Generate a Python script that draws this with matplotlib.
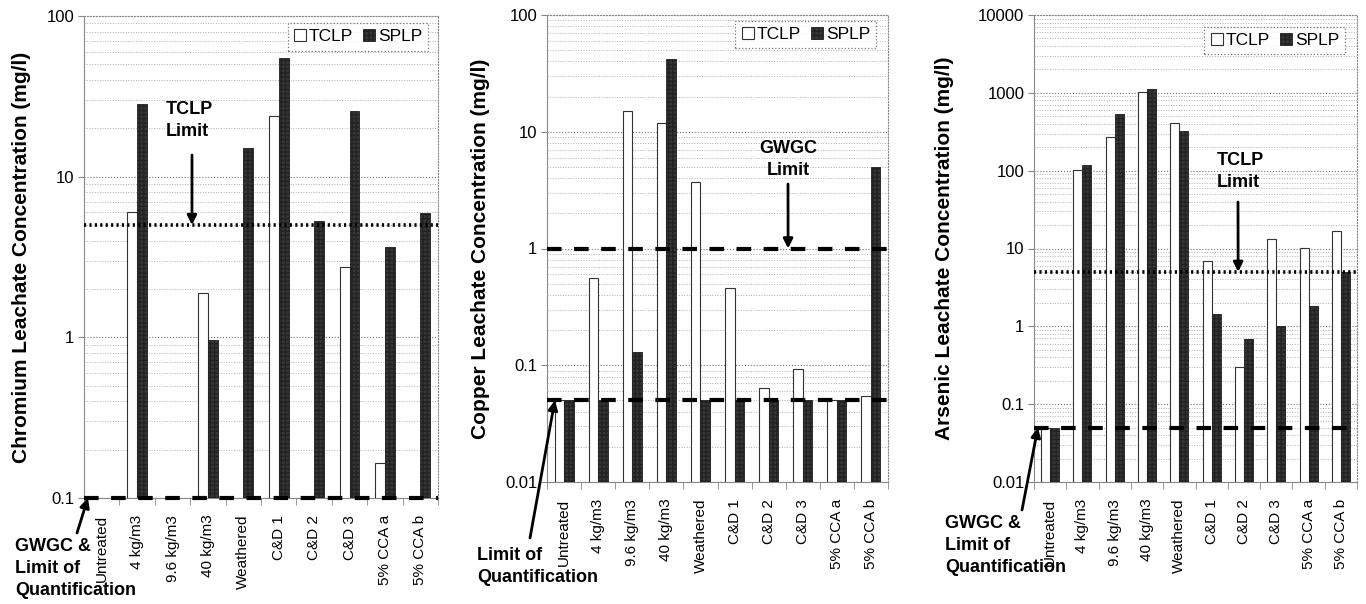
import matplotlib
matplotlib.use("Agg")
import matplotlib.pyplot as plt
import numpy as np

plt.rcParams['font.family'] = ['Liberation Sans', 'DejaVu Sans']
plt.rcParams['hatch.color'] = '#5a5a5a'

# categories and leachate values (mg/l)
categories = ["Untreated", "4 kg/m3", "9.6 kg/m3", "40 kg/m3", "Weathered",
              "C&D 1", "C&D 2", "C&D 3", "5% CCA a", "5% CCA b"]

cr_tclp = [0.1, 6.0, 0.1, 1.88, 0.1, 24.0, 0.1, 2.73, 0.164, 0.1]
cr_splp = [0.1, 28.3, 0.1, 0.96, 15.0, 54.8, 5.3, 25.6, 3.65, 5.94]

cu_tclp = [0.05, 0.556, 15.0, 11.9, 3.69, 0.46, 0.064, 0.093, 0.05, 0.054]
cu_splp = [0.05, 0.05, 0.129, 41.7, 0.05, 0.05, 0.05, 0.05, 0.05, 4.96]

as_tclp = [0.05, 101, 269, 1028, 404, 6.9, 0.30, 13.2, 10.3, 16.9]
as_splp = [0.05, 119, 536, 1135, 328, 1.43, 0.69, 1.0, 1.82, 5.0]

W, H = 1366, 604
fig = plt.figure(figsize=(W / 100, H / 100), dpi=100)


def fpx(x, y):
    # figure pixel (from top-left) -> figure fraction
    return (x / W, 1 - y / H)


def panel(rect, tclp, splp, ymin, ymax, ylabel, ylab_x, leg_anchor):
    ax = fig.add_axes(rect)
    x = np.arange(len(categories))
    bw = 0.28
    ax.bar(x - bw / 2, np.array(tclp) - ymin, bw, bottom=ymin, color='white',
           edgecolor='#333333', linewidth=0.8, zorder=3, label='TCLP')
    ax.bar(x + bw / 2, np.array(splp) - ymin, bw, bottom=ymin, color='#363636',
           edgecolor='#222222', linewidth=0.6, hatch='++++', zorder=3, label='SPLP')
    ax.set_yscale('log')
    ax.set_ylim(ymin, ymax)
    ax.set_xlim(-0.5, len(categories) - 0.5)

    decades = 10.0 ** np.arange(np.log10(ymin), np.log10(ymax) + 0.5)
    ax.set_yticks(decades)
    ax.set_yticklabels([('%g' % d) for d in decades], fontsize=12)
    ax.yaxis.set_minor_formatter(matplotlib.ticker.NullFormatter())
    ax.tick_params(axis='y', which='minor', length=0)
    ax.tick_params(axis='y', which='major', length=4, color='#888888', pad=3)

    ax.set_xticks(x)
    ax.set_xticklabels(categories, rotation=90, fontsize=11, va='top')
    ax.tick_params(axis='x', which='major', length=0, pad=12)
    ax.set_xticks(np.arange(len(categories) + 1) - 0.5, minor=True)
    ax.tick_params(axis='x', which='minor', length=5, color='#888888')

    ax.grid(which='major', axis='y', ls=':', color='#777777', lw=0.8, zorder=0)
    ax.grid(which='minor', axis='y', ls=':', color='#b0b0b0', lw=0.7, zorder=0)
    for s in ['top', 'right']:
        ax.spines[s].set_linestyle(':')
        ax.spines[s].set_color('#888888')
    for s in ['left', 'bottom']:
        ax.spines[s].set_color('#888888')

    leg = ax.legend(loc='upper right', ncol=2, fontsize=12.5, handlelength=0.7,
                    handleheight=0.7, handletextpad=0.15, columnspacing=0.6,
                    borderpad=0.35, borderaxespad=0, fancybox=False,
                    bbox_to_anchor=leg_anchor)
    leg.get_frame().set_linestyle(':')
    leg.get_frame().set_edgecolor('#555555')
    leg.get_frame().set_linewidth(0.9)

    fig.text(ylab_x / W, rect[1] + rect[3] / 2, ylabel, rotation=90,
             ha='center', va='center', fontsize=15, fontweight='bold')
    return ax


def hline(ax, y, style):
    if style == 'dot':
        ax.axhline(y, color='black', lw=2.6, ls=(0, (0.6, 0.9)), zorder=5, clip_on=False)
    else:
        ax.axhline(y, color='black', lw=3, ls=(0, (3.5, 3)), zorder=5, clip_on=False)


def note(ax, text, tx, ty, tail, head, ha='left'):
    fig.text(*fpx(tx, ty), text, ha=ha, va='top', fontsize=13, fontweight='bold',
             linespacing=1.4, multialignment=ha)
    ax.annotate('', xy=head, xycoords='data', xytext=fpx(*tail),
                textcoords='figure fraction',
                arrowprops=dict(arrowstyle='-|>', color='black', lw=2,
                                mutation_scale=14, shrinkA=0, shrinkB=0),
                annotation_clip=False)


ax1 = panel([84 / W, 1 - 498 / H, 354 / W, 482 / H], cr_tclp, cr_splp, 0.1, 100,
            'Chromium Leachate Concentration (mg/l)', 22, (0.972, 0.985))
hline(ax1, 5, 'dot')
hline(ax1, 0.1, 'dash')
note(ax1, 'TCLP\nLimit', 166, 101, (192, 155), (2.55, 5))
note(ax1, 'GWGC &\nLimit of\nQuantification', 15, 538, (77, 533), (-0.39, 0.1))

ax2 = panel([547 / W, 1 - 482 / H, 341 / W, 467 / H], cu_tclp, cu_splp, 0.01, 100,
            'Copper Leachate Concentration (mg/l)', 480, (0.965, 0.987))
hline(ax2, 1, 'dash')
hline(ax2, 0.05, 'dash')
note(ax2, 'GWGC\nLimit', 788, 140, (788, 184), (6.57, 1), ha='center')
note(ax2, 'Limit of\nQuantification', 477, 547, (530, 538), (-0.27, 0.05))

ax3 = panel([1034 / W, 1 - 482 / H, 323 / W, 467 / H], as_tclp, as_splp, 0.01, 10000,
            'Arsenic Leachate Concentration (mg/l)', 945, (0.963, 0.974))
hline(ax3, 5, 'dot')
hline(ax3, 0.05, 'dash')
note(ax3, 'TCLP\nLimit', 1217, 152, (1238, 202), (5.82, 5))
note(ax3, 'GWGC &\nLimit of\nQuantification', 945, 515, (1022, 510), (-0.38, 0.05))

fig.savefig('out.png', dpi=100)
